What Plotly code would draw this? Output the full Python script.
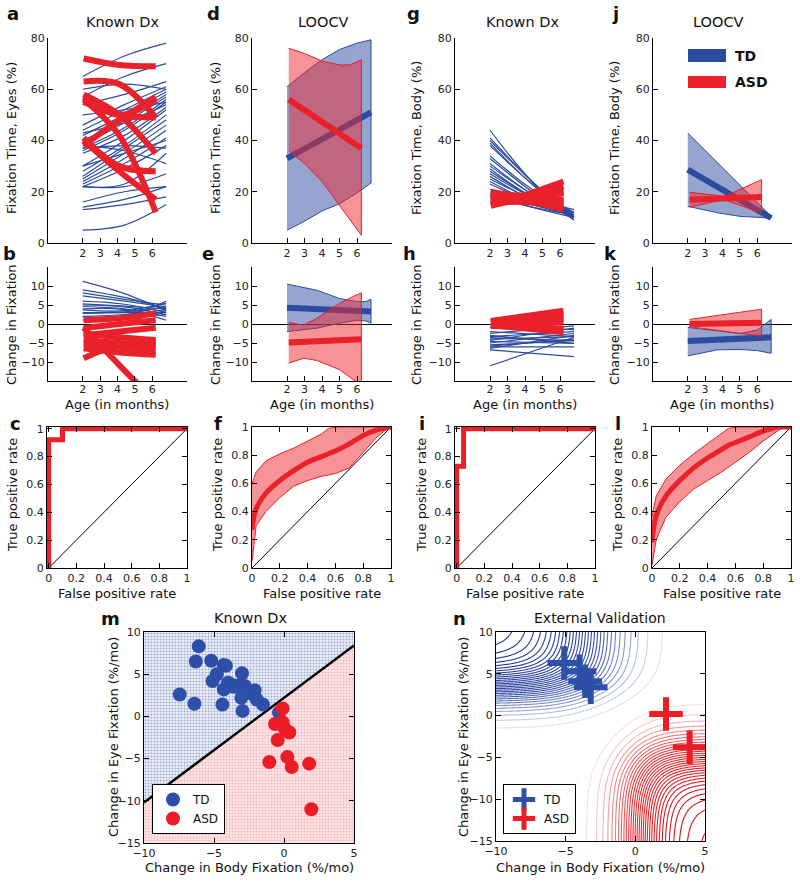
import math
import plotly.graph_objects as go

W, H = 800, 882
FONT = "DejaVu Sans, Verdana, sans-serif"
BLUE = "#2b4b9f"
RED = "#e8212a"
BLUE_FILL = "rgba(43,75,159,0.5)"
RED_FILL = "rgba(236,40,48,0.5)"

# ---------------- data ----------------
AGE_TD = [2.0, 4.4, 6.8]      # TD fits span 2 - 6.8 months
AGE_ASD = [2.05, 4.1, 6.2]    # ASD fits span 2 - 6.2 months
AGE_TD2 = [2.0, 6.8]
AGE_ASD2 = [2.05, 6.2]

# a: fixation time on eyes, individual fits (start, middle, end)
eyes_td = [
    [65, 73, 78], [57, 65, 70], [54, 58, 63], [46, 54, 61], [44, 52, 60],
    [42, 50, 59], [40, 48, 58], [38, 47, 57], [37, 45, 56], [36, 44, 55],
    [43, 47, 54], [35, 42, 53], [30, 40, 52], [28, 38, 50], [26, 37, 48],
    [25, 35, 46], [24, 33, 44], [23, 31, 41], [22, 29, 38], [37, 38, 37],
    [22, 23, 35], [38, 36, 31], [22, 22, 27], [16, 20, 22], [13, 15, 18],
    [5, 7, 15], [30, 35, 40], [60, 62, 60], [50, 52, 55], [14, 17, 22],
]
eyes_asd = [
    [72, 69.5, 69], [63, 62, 49], [58, 50, 35], [56, 42, 12],
    [55, 50, 49], [41, 30, 28], [40, 28, 17], [38, 48, 57], [57, 50, 56],
]
# b: change in eye fixation
eyes_chg_td = [
    [11.2, 8, 3.5], [9, 7, 4], [8.2, 6.5, 5], [7.4, 6, 4.5], [6, 5.2, 3],
    [5.3, 4.7, 4], [4.6, 4, 2], [3.7, 3.5, 5.5], [2.8, 3, 3], [1.9, 2.2, 6],
    [1, 1.5, 2.5], [-0.9, 0.5, 3.5], [4, 3.8, 1], [5, 4.5, 2.5],
    [3, 3.2, 4.3], [2, 2.5, 3.8],
]
eyes_chg_asd = [
    [1, 1.5, 2.8], [-1.1, 0, 1], [-2.5, -3.5, -4.2], [-4.2, -5, -5.5],
    [-5.1, -6, -6.8], [-6.4, -7.5, -8.1], [-9, -5.5, -5], [-3, -2, -1],
    [-1, -10.8, -20.6],
]
# g: fixation time on body
body_td = [
    [44, 24, 10], [41, 24, 9], [40, 24, 10], [39, 23, 11], [38, 23, 10],
    [34, 21, 12], [33, 20, 9], [31, 19, 11], [30, 19, 10], [29, 18, 12],
    [28, 18, 11], [27, 18, 13], [26, 17, 12], [25, 17, 10], [24, 16, 11],
    [23, 16, 12], [21, 15, 11], [20, 15, 12], [19, 14, 10], [18, 14, 11],
]
body_asd = [
    [14.5, 18, 22], [20, 17, 13], [17, 17.5, 17], [16, 18, 20], [19, 17, 15],
    [15, 19, 24], [18, 17, 16], [15.5, 16, 13.5], [19.5, 18.5, 19.5],
]
# h: change in body fixation (start, end)
body_chg_td = [
    [-0.9, -1.5], [-2.5, -0.5], [-3.3, -2.0], [-3.6, -4.4], [-4.0, -3.3],
    [-4.6, -5.1], [-5.0, -2.5], [-5.5, -4.4], [-6.0, -6.0], [-6.4, -3.0],
    [-6.8, -8.6], [-11, -3.5], [-3.0, -5.1], [-4.3, -1.1], [-5.8, -4.0],
    [-2.0, -3.3],
]
body_chg_asd = [[0.8, 3.5], [0.3, 1.5], [-0.3, -2.2], [0, 0.5], [0.5, 2.5], [-0.5, -1.2]]

# d: LOOCV eyes
d_td_age = [2, 3, 4, 5, 6, 6.8]
d_td_upper = [61, 66.5, 71.5, 75.5, 78, 79.3]
d_td_lower = [5, 8.5, 12.5, 15.3, 19.5, 23.4]
d_td_mean = [33, 51]
d_asd_age = [2.1, 3, 4, 5, 5.6, 6.25]
d_asd_upper = [76, 74, 71, 69.5, 69.5, 71.5]
d_asd_lower = [36, 31, 24, 15, 9, 3]
d_asd_mean = [56, 37]
# e: LOOCV change in eyes
e_td_age = [2, 3.7, 5, 6, 6.5, 6.8]
e_td_upper = [10.5, 8.9, 6.7, 5.9, 5.9, 6.5]
e_td_lower = [-2, -1.1, 0.2, 1, 0.8, 0.2]
e_td_mean = [4.3, 3.3]
e_asd_age = [2.1, 2.95, 3.7, 5.0, 5.8, 6.25]
e_asd_upper = [0.4, -0.3, 1.5, 5.4, 7.3, 8.2]
e_asd_lower = [-10.3, -9, -9.6, -12, -14.7, -16]
e_asd_mean = [-4.9, -4.0]
# j: LOOCV body
j_td_age = [2, 3.8, 5, 6.8]
j_td_upper = [42.9, 30.6, 22.4, 10.4]
j_td_lower = [14.3, 11.7, 10.4, 9.75]
j_td_mean = [28.6, 9.75]
j_asd_age = [2.1, 4.1, 6.25]
j_asd_upper = [19.8, 18.2, 24.7]
j_asd_lower = [14, 16.9, 11.7]
j_asd_mean = [16.9, 18]
# k: LOOCV change in body
k_td_age = [2, 3.7, 5, 6, 6.8]
k_td_upper = [-0.9, -1.75, -2.5, -1.6, 1.2]
k_td_lower = [-8.4, -6.8, -6.7, -7.0, -7.7]
k_td_mean = [-4.5, -3.5]
k_asd_age = [2.1, 6.25]
k_asd_upper = [1.2, 3.9]
k_asd_lower = [-0.7, -3.2]
k_asd_mean = [0.0, 0.3]

# ROC curves
c_fpr = [0, 0, 0.1, 0.1, 1]
c_tpr = [0, 0.92, 0.92, 1, 1]
i_fpr = [0, 0, 0.05, 0.05, 1]
i_tpr = [0, 0.73, 0.73, 1, 1]
roc_fpr = [0, 0.03, 0.1, 0.2, 0.3, 0.4, 0.5, 0.55, 0.6, 0.7, 0.8, 0.9, 0.95, 1.0]
f_mean = [0.27, 0.42, 0.53, 0.62, 0.69, 0.75, 0.79, 0.81, 0.83, 0.88, 0.94, 0.98, 0.99, 1.0]
f_upper = [0.60, 0.68, 0.76, 0.81, 0.85, 0.90, 0.95, 0.99, 1, 1, 1, 1, 1, 1]
f_lower = [0.05, 0.30, 0.40, 0.50, 0.58, 0.62, 0.65, 0.66, 0.67, 0.71, 0.82, 0.93, 0.97, 1.0]
l_mean = [0.18, 0.37, 0.51, 0.62, 0.71, 0.78, 0.84, 0.87, 0.89, 0.93, 0.97, 1.0, 1.0, 1.0]
l_upper = [0.36, 0.51, 0.63, 0.73, 0.81, 0.88, 0.95, 0.99, 1, 1, 1, 1, 1, 1]
l_lower = [0.02, 0.20, 0.36, 0.47, 0.56, 0.62, 0.68, 0.71, 0.75, 0.82, 0.90, 0.97, 1.0, 1.0]
chance = [0, 1]

# m: slopes per child
m_td_body = [-6.09, -6.3, -5.2, -4.15, -4.8, -5.1, -3.0, -7.45, -6.4, -4.4, -4.3, -3.9, -3.5,
             -3.15, -2.8, -3.05, -2.96, -2.1, -1.95, -1.5, -4.0, -4.3, -0.36, -3.6, -2.2]
m_td_eyes = [8.3, 6.5, 6.6, 6.0, 5.0, 4.2, 5.1, 2.6, 1.5, 1.4, 3.2, 3.9, 3.6,
             3.7, 3.6, 2.2, 0.65, 3.1, 2.0, 1.4, 4.0, 6.1, 0.45, 3.5, 2.6]
m_asd_body = [-0.1, -0.64, -0.1, 0.07, 0.38, -0.45, -1.05, 0.24, 0.55, 1.8, 1.95]
m_asd_eyes = [0.95, -0.9, -0.7, -1.5, -1.9, -2.8, -5.4, -4.8, -6.0, -5.6, -11.0]
boundary_body = [-10, 5]
boundary_eyes = [-10.2, 8.4]

# n: external validation
n_td_body = [-5.1, -4.0, -3.6, -3.2]
n_td_eyes = [6.3, 5.3, 4.1, 3.4]
n_asd_body = [2.2, 3.9]
n_asd_eyes = [0.2, -3.8]
TD_MODEL = dict(x_mid=-3.6, x_scale=1.75, y_mid=3.4, y_scale=1.55)
ASD_MODEL = dict(x_mid=0.3, x_scale=1.2, y_mid=-5.0, y_scale=2.0)

M_XRANGE = [-10, 5]
M_YRANGE = [-15, 10]

# ---------------- layout helpers ----------------
BOXES = {
    "a": (48, 187, 38, 243), "d": (252, 392, 38, 243), "g": (455, 595, 38, 243), "j": (653, 792, 38, 243),
    "b": (48, 187, 267, 381), "e": (252, 392, 267, 381), "h": (455, 595, 267, 381), "k": (653, 792, 267, 381),
    "c": (47, 187, 427, 568), "f": (252, 391, 427, 568), "i": (455, 595, 427, 568), "l": (652, 791, 427, 568),
    "m": (144, 354, 632, 843), "n": (496, 705, 632, 841),
}
ORDER = list("adgjbehkcfilmn")
IDX = {k: i + 1 for i, k in enumerate(ORDER)}

fig = go.Figure()
layout = {}
tickfont = dict(family=FONT, size=11, color="#222")
axbase = dict(showline=True, linecolor="black", linewidth=1, ticks="inside", ticklen=5,
              tickcolor="black", showgrid=False, zeroline=False, automargin=False,
              tickfont=tickfont)

for k, (x0, x1, y0, y1) in BOXES.items():
    n = IDX[k]
    xs = "" if n == 1 else str(n)
    xa = dict(axbase, domain=[x0 / W, x1 / W], anchor="y" + xs)
    ya = dict(axbase, domain=[1 - y1 / H, 1 - y0 / H], anchor="x" + xs)
    if k in "adgj":
        xa.update(range=[0, 8], tickvals=[2, 3, 4, 5, 6])
        ya.update(range=[0, 80], tickvals=[0, 20, 40, 60, 80])
    elif k in "behk":
        xa.update(range=[0, 8], tickvals=[2, 3, 4, 5, 6], ticklabelstandoff=-2)
        ya.update(range=[-15, 15], tickvals=[-10, -5, 0, 5, 10],
                  zeroline=True, zerolinecolor="black", zerolinewidth=1)
    elif k in "cfil":
        lo, hi = (-0.012, 1.012) if k in "ci" else (0, 1)
        xa.update(range=[lo, 1], tickvals=[0, 0.2, 0.4, 0.6, 0.8, 1], mirror="ticks")
        ya.update(range=[0, hi], tickvals=[0, 0.2, 0.4, 0.6, 0.8, 1], mirror="ticks")
    else:
        xa.update(range=M_XRANGE, tickvals=[-10, -5, 0, 5], mirror="ticks")
        ya.update(range=M_YRANGE, tickvals=[-15, -10, -5, 0, 5, 10], mirror="ticks")
    layout["xaxis" + xs] = xa
    layout["yaxis" + xs] = ya


def ax(k):
    n = IDX[k]
    s = "" if n == 1 else str(n)
    return dict(xaxis="x" + s, yaxis="y" + s)


def line(k, x, y, color, width, shape="linear"):
    fig.add_trace(go.Scatter(x=x, y=y, mode="lines", showlegend=False, hoverinfo="skip",
                             line=dict(color=color, width=width, shape=shape), **ax(k)))


def band(k, x, upper, lower, fill, edge):
    fig.add_trace(go.Scatter(x=list(x) + list(x)[::-1], y=list(upper) + list(lower)[::-1],
                             mode="lines", fill="toself", fillcolor=fill, showlegend=False,
                             hoverinfo="skip", line=dict(color=edge, width=1), **ax(k)))


# a, b, g, h: individual fits
for ys in eyes_td:
    line("a", AGE_TD, ys, BLUE, 1.2, "spline")
for ys in eyes_asd:
    line("a", AGE_ASD, ys, RED, 6, "spline")
for ys in eyes_chg_td:
    line("b", AGE_TD, ys, BLUE, 1.2, "spline")
for ys in eyes_chg_asd:
    line("b", AGE_ASD, ys, RED, 6, "spline")
for ys in body_td:
    line("g", AGE_TD, ys, BLUE, 1.2, "spline")
for ys in body_asd:
    line("g", AGE_ASD, ys, RED, 6, "spline")
for ys in body_chg_td:
    line("h", AGE_TD2, ys, BLUE, 1.2)
for ys in body_chg_asd:
    line("h", AGE_ASD2, ys, RED, 6)

# d, e, j, k: LOOCV bands and means
for k, tda, tdu, tdl, tdm, asa, asu, asl, asm in [
    ("d", d_td_age, d_td_upper, d_td_lower, d_td_mean, d_asd_age, d_asd_upper, d_asd_lower, d_asd_mean),
    ("e", e_td_age, e_td_upper, e_td_lower, e_td_mean, e_asd_age, e_asd_upper, e_asd_lower, e_asd_mean),
    ("j", j_td_age, j_td_upper, j_td_lower, j_td_mean, j_asd_age, j_asd_upper, j_asd_lower, j_asd_mean),
    ("k", k_td_age, k_td_upper, k_td_lower, k_td_mean, k_asd_age, k_asd_upper, k_asd_lower, k_asd_mean),
]:
    band(k, tda, tdu, tdl, BLUE_FILL, BLUE)
    line(k, [tda[0], tda[-1]], tdm, BLUE, 6)
    band(k, asa, asu, asl, RED_FILL, RED)
    line(k, [asa[0], asa[-1]], asm, RED, 6)

# ROC panels
for k in "cfil":
    line(k, chance, chance, "black", 1)
line("c", c_fpr, c_tpr, RED, 5)
line("i", i_fpr, i_tpr, RED, 5)
band("f", roc_fpr, f_upper, f_lower, RED_FILL, RED)
line("f", roc_fpr, f_mean, RED, 5, "spline")
band("l", roc_fpr, l_upper, l_lower, RED_FILL, RED)
line("l", roc_fpr, l_mean, RED, 5, "spline")

# m: decision regions, boundary, points
fig.add_trace(go.Scatter(
    x=boundary_body + boundary_body[::-1], y=boundary_eyes + [M_YRANGE[1], M_YRANGE[1]],
    fill="toself", mode="none", showlegend=False, hoverinfo="skip",
    fillpattern=dict(shape=".", fgcolor="#4a64b0", bgcolor="#eef0f8", size=3, solidity=0.35), **ax("m")))
fig.add_trace(go.Scatter(
    x=boundary_body + boundary_body[::-1], y=boundary_eyes + [M_YRANGE[0], M_YRANGE[0]],
    fill="toself", mode="none", showlegend=False, hoverinfo="skip",
    fillpattern=dict(shape=".", fgcolor="#f08a90", bgcolor="#fbe6e8", size=3, solidity=0.35), **ax("m")))
line("m", boundary_body, boundary_eyes, "black", 2.5)
fig.add_trace(go.Scatter(x=m_td_body, y=m_td_eyes, mode="markers", name="TD", legend="legend",
                         marker=dict(color="#2d4fa8", size=14), **ax("m")))
fig.add_trace(go.Scatter(x=m_asd_body, y=m_asd_eyes, mode="markers", name="ASD", legend="legend",
                         marker=dict(color="#ec1c24", size=14), **ax("m")))


# n: classifier probability contours
def sig(v):
    return 1.0 / (1.0 + math.exp(-v))


gx = [M_XRANGE[0] + 0.1 * i for i in range(151)]
gy = [M_YRANGE[0] + 0.1 * j for j in range(251)]
z_td = [[sig((TD_MODEL["x_mid"] - x) / TD_MODEL["x_scale"]) * sig((y - TD_MODEL["y_mid"]) / TD_MODEL["y_scale"])
         for x in gx] for y in gy]
z_asd = [[sig((x - ASD_MODEL["x_mid"]) / ASD_MODEL["x_scale"]) * sig((ASD_MODEL["y_mid"] - y) / ASD_MODEL["y_scale"])
          for x in gx] for y in gy]
for z, scale in [
    (z_td, [[0, "#dfe3f1"], [0.12, "#8796cc"], [0.35, "#3650a8"], [1, "#1c3494"]]),
    (z_asd, [[0, "#fbe0e0"], [0.12, "#f28c8f"], [0.35, "#e8333a"], [1, "#da1018"]]),
]:
    fig.add_trace(go.Contour(x=gx, y=gy, z=z, zmin=0, zmax=1, colorscale=scale, showscale=False,
                             contours=dict(coloring="lines", start=0.04, end=0.97, size=0.03),
                             line=dict(width=1.1), hoverinfo="skip", **ax("n")))
fig.add_trace(go.Scatter(x=n_td_body, y=n_td_eyes, mode="markers", name="TD", legend="legend2",
                         marker=dict(symbol="cross-thin", size=24, color="#2d4fa8",
                                     line=dict(color="#2d4fa8", width=6)), **ax("n")))
fig.add_trace(go.Scatter(x=n_asd_body, y=n_asd_eyes, mode="markers", name="ASD", legend="legend2",
                         marker=dict(symbol="cross-thin", size=24, color="#ec1c24",
                                     line=dict(color="#ec1c24", width=6)), **ax("n")))

# ---------------- text ----------------
ann = []


def txt(x, y, s, size=13, bold=False, angle=0):
    ann.append(dict(x=x / W, y=1 - y / H, xref="paper", yref="paper", text=f"<b>{s}</b>" if bold else s,
                    showarrow=False, textangle=angle, xanchor="center", yanchor="middle",
                    font=dict(family=FONT, size=size, color="#111")))


for s, x, y in [("a", 13, 14), ("d", 213, 14), ("g", 413, 14), ("j", 615, 14),
                ("b", 9, 253), ("e", 208, 253), ("h", 410, 253), ("k", 610, 253),
                ("c", 15, 423), ("f", 218, 423), ("i", 422, 423), ("l", 618, 423),
                ("m", 110, 618), ("n", 460, 618)]:
    txt(x, y, s, 18, bold=True)

for s, x in [("Known Dx", 122), ("LOOCV", 323), ("Known Dx", 522), ("LOOCV", 718)]:
    txt(x, 22, s, 14.5)
txt(250, 618, "Known Dx", 14.5)
txt(600, 618, "External Validation", 14)

for s, x in [("Fixation Time, Eyes (%)", 12), ("Fixation Time, Eyes (%)", 216),
             ("Fixation Time, Body (%)", 417), ("Fixation Time, Body (%)", 615)]:
    txt(x, 138, s, 13, angle=-90)
for x in [12, 216, 417, 615]:
    txt(x, 325, "Change in Fixation", 13, angle=-90)
for x, cx in [(13, 117), (218, 322), (422, 525), (618, 722)]:
    txt(x, 495, "True positive rate", 13, angle=-90)
    txt(cx, 593, "False positive rate", 13)
for cx in [117, 322, 525, 722]:
    txt(cx, 405, "Age (in months)", 13)
txt(113, 737, "Change in Eye Fixation (%/mo)", 13, angle=-90)
txt(463, 737, "Change in Eye Fixation (%/mo)", 13, angle=-90)
txt(249, 867, "Change in Body Fixation (%/mo)", 13)
txt(600, 867, "Change in Body Fixation (%/mo)", 13)

# j legend
shapes = []
for (y0, y1), color, label in [((49, 62), BLUE, "TD"), ((76, 88), RED, "ASD")]:
    shapes.append(dict(type="rect", xref="paper", yref="paper", x0=688 / W, x1=726 / W,
                       y0=1 - y1 / H, y1=1 - y0 / H, fillcolor=color, line=dict(width=0)))
    ann.append(dict(x=733 / W, y=1 - (y0 + y1) / 2 / H, xref="paper", yref="paper", text=f"<b>{label}</b>",
                    showarrow=False, xanchor="left", yanchor="middle",
                    font=dict(family=FONT, size=14, color="#111")))

leg = dict(bgcolor="white", bordercolor="black", borderwidth=1, xanchor="left", yanchor="bottom",
           font=dict(family=FONT, size=12, color="#111"), itemwidth=30, tracegroupgap=0)
layout["legend"] = dict(leg, x=152 / W, y=1 - 834 / H)
layout["legend2"] = dict(leg, x=503 / W, y=1 - 834 / H)

fig.update_layout(**layout)
fig.update_layout(width=W, height=H, margin=dict(l=0, r=0, t=0, b=0, autoexpand=False),
                  plot_bgcolor="white", paper_bgcolor="white", annotations=ann, shapes=shapes,
                  showlegend=True, font=dict(family=FONT))

fig.write_html("out.html", config={"displayModeBar": False},
               post_script="document.body.style.margin='0';document.body.style.overflow='hidden';")
